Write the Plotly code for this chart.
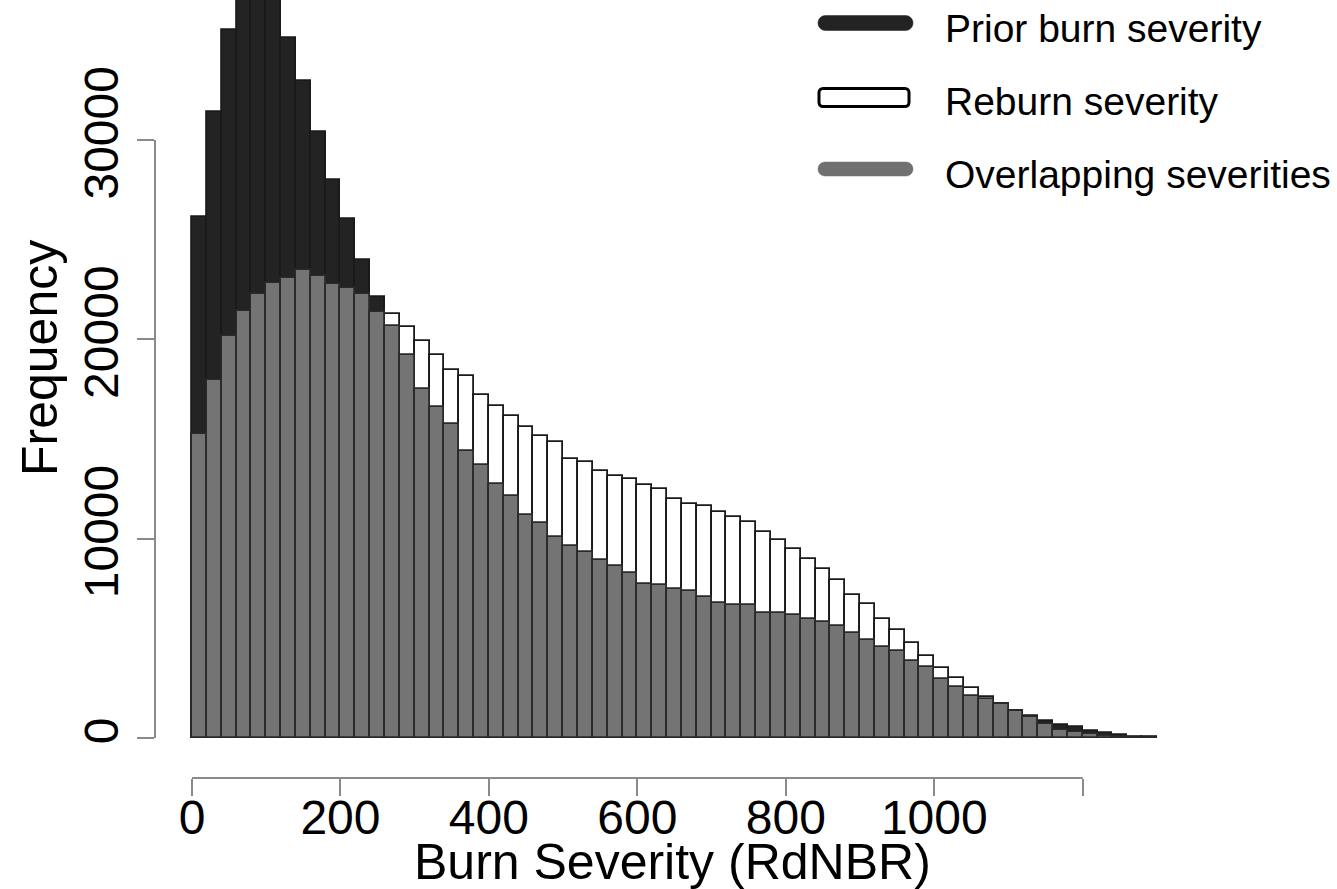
import numpy as np
import plotly.graph_objects as go

# ---------------- data ----------------
bin_width = 20
bin_left = list(range(0, 1300, 20))  # 65 bins, 0..1300

prior_counts = [
    26130, 31390, 35520, 38500, 39800, 38600, 35120, 32980, 30390, 28000,
    26050, 23990, 22140, 20650, 19220, 17530, 16610, 15730, 14400, 13720,
    12730, 12130, 11210, 10790, 10060, 9640, 9340, 8920, 8640, 8260,
    7720, 7690, 7480, 7370, 7050, 6780, 6650, 6650, 6250, 6250,
    6170, 5950, 5810, 5630, 5280, 4900, 4580, 4370, 3870, 3570,
    2950, 2570, 2120, 1940, 1690, 1360, 1110, 870, 670, 535,
    370, 270, 150, 70, 40,
]
reburn_counts = [
    15240, 17940, 20150, 21420, 22290, 22820, 23090, 23490, 23160, 22780,
    22590, 22250, 21370, 21290, 20620, 19910, 19200, 18480, 18180, 17190,
    16660, 16140, 15600, 15170, 14840, 13980, 13830, 13380, 13130, 12980,
    12700, 12510, 12010, 11760, 11660, 11360, 11080, 10840, 10330, 9910,
    9490, 8970, 8470, 7950, 7150, 6730, 5950, 5410, 4770, 4120,
    3520, 2990, 2490, 2070, 1720, 1340, 1060, 700, 420, 320,
    200, 110, 50, 20, 10,
]
x_tickvals = [0, 200, 400, 600, 800, 1000, 1200]
x_ticktext = ["0", "200", "400", "600", "800", "1000", ""]
y_tickvals = [0, 10000, 20000, 30000]
y_ticktext = ["0", "10000", "20000", "30000"]
legend_labels = ["Prior burn severity", "Reburn severity", "Overlapping severities"]

# ---------------- styling / layout constants ----------------
W, H = 1337, 889
FONT = "Liberation Sans, Arial, sans-serif"
DARK = "#232323"
GREY = "#747474"
EDGE = "#1a1a1a"
AXIS = "#8a8a8a"

PL, PR, PT, PB = 155, 1180, 0, 778      # plot area in pixels
X0PX, XSCALE = 192.0, 965.0 / 1300.0    # px of x=0, px per unit
Y0PX, YSCALE = 738.0, 598.0 / 30000.0   # px of y=0, px per unit

xrange_ = [(PL - X0PX) / XSCALE, (PR - X0PX) / XSCALE]
yrange_ = [(Y0PX - PB) / YSCALE, (Y0PX - PT) / YSCALE]

def px_to_paper_x(px):
    return (px - PL) / (PR - PL)

def px_to_paper_y(py):
    return (PB - py) / (PB - PT)

centers = np.array(bin_left) + bin_width / 2
prior = np.array(prior_counts)
reburn = np.array(reburn_counts)
overlap = np.minimum(prior, reburn)

fig = go.Figure()
fig.add_trace(go.Bar(x=centers, y=prior, width=bin_width,
                     marker=dict(color=DARK, line=dict(color=EDGE, width=1.8)),
                     showlegend=False, name=legend_labels[0]))
fig.add_trace(go.Bar(x=centers, y=reburn, width=bin_width,
                     marker=dict(color="white", line=dict(color=EDGE, width=1.8)),
                     showlegend=False, name=legend_labels[1]))
fig.add_trace(go.Bar(x=centers, y=overlap, width=bin_width,
                     marker=dict(color=GREY, line=dict(color="#2a2a2a", width=1.8)),
                     showlegend=False, name=legend_labels[2]))

shapes = []
# R-style axis lines spanning first to last tick
shapes.append(dict(type="line", xref="x", yref="paper", x0=x_tickvals[0], x1=x_tickvals[-1],
                   y0=0, y1=0, line=dict(color=AXIS, width=2)))
shapes.append(dict(type="line", xref="paper", yref="y", x0=0, x1=0,
                   y0=y_tickvals[0], y1=y_tickvals[-1], line=dict(color=AXIS, width=2)))

def rounded_bar(cx_px, cy_px, w, h, r, fill, line_color, line_width):
    ax = w / 2.0 - r
    ay = h / 2.0 - r
    k = 0.5523 * r
    hw, hh = w / 2.0, h / 2.0
    path = (f"M {-ax},{-hh} L {ax},{-hh} "
            f"C {ax + k},{-hh} {hw},{-ay - k} {hw},{-ay} "
            f"L {hw},{ay} "
            f"C {hw},{ay + k} {ax + k},{hh} {ax},{hh} "
            f"L {-ax},{hh} "
            f"C {-ax - k},{hh} {-hw},{ay + k} {-hw},{ay} "
            f"L {-hw},{-ay} "
            f"C {-hw},{-ay - k} {-ax - k},{-hh} {-ax},{-hh} Z")
    return dict(type="path", xref="paper", yref="paper",
                xsizemode="pixel", ysizemode="pixel",
                xanchor=px_to_paper_x(cx_px), yanchor=px_to_paper_y(cy_px),
                path=path, fillcolor=fill, line=dict(color=line_color, width=line_width))

shapes.append(rounded_bar(865.5, 23, 95, 15, 7.5, DARK, DARK, 0.5))
shapes.append(rounded_bar(864, 97.5, 90, 18, 4, "white", "black", 3))
shapes.append(rounded_bar(865.5, 169, 95, 14, 7, "#707070", "#707070", 0.5))

annotations = []
legend_y = [28, 102, 174]
for lab, ly in zip(legend_labels, legend_y):
    annotations.append(dict(text=lab, xref="paper", yref="paper",
                            x=px_to_paper_x(943), y=px_to_paper_y(ly),
                            xanchor="left", yanchor="middle", showarrow=False,
                            font=dict(family=FONT, size=39, color="black")))
annotations.append(dict(text="Burn Severity (RdNBR)", xref="paper", yref="paper",
                        x=px_to_paper_x(672), y=px_to_paper_y(862),
                        xanchor="center", yanchor="middle", showarrow=False,
                        font=dict(family=FONT, size=50, color="black")))
annotations.append(dict(text="Frequency", xref="paper", yref="paper",
                        x=px_to_paper_x(40), y=px_to_paper_y(358),
                        xanchor="center", yanchor="middle", showarrow=False, textangle=-90,
                        font=dict(family=FONT, size=50, color="black")))

fig.update_layout(
    width=W, height=H,
    margin=dict(l=PL, r=W - PR, t=PT, b=H - PB, pad=0),
    paper_bgcolor="white", plot_bgcolor="white",
    barmode="overlay", bargap=0,
    showlegend=False,
    shapes=shapes, annotations=annotations,
    xaxis=dict(range=xrange_, tickvals=x_tickvals, ticktext=x_ticktext,
               showgrid=False, zeroline=False, showline=False,
               ticks="outside", ticklen=17, tickwidth=2, tickcolor=AXIS,
               ticklabelstandoff=-20,
               tickfont=dict(family=FONT, size=48, color="black")),
    yaxis=dict(range=yrange_, tickvals=y_tickvals, ticktext=y_ticktext,
               showgrid=False, zeroline=False, showline=False,
               ticks="outside", ticklen=17, tickwidth=2, tickcolor=AXIS,
               tickangle=-90,
               tickfont=dict(family=FONT, size=48, color="black")),
)

fig.write_html("out.html")
